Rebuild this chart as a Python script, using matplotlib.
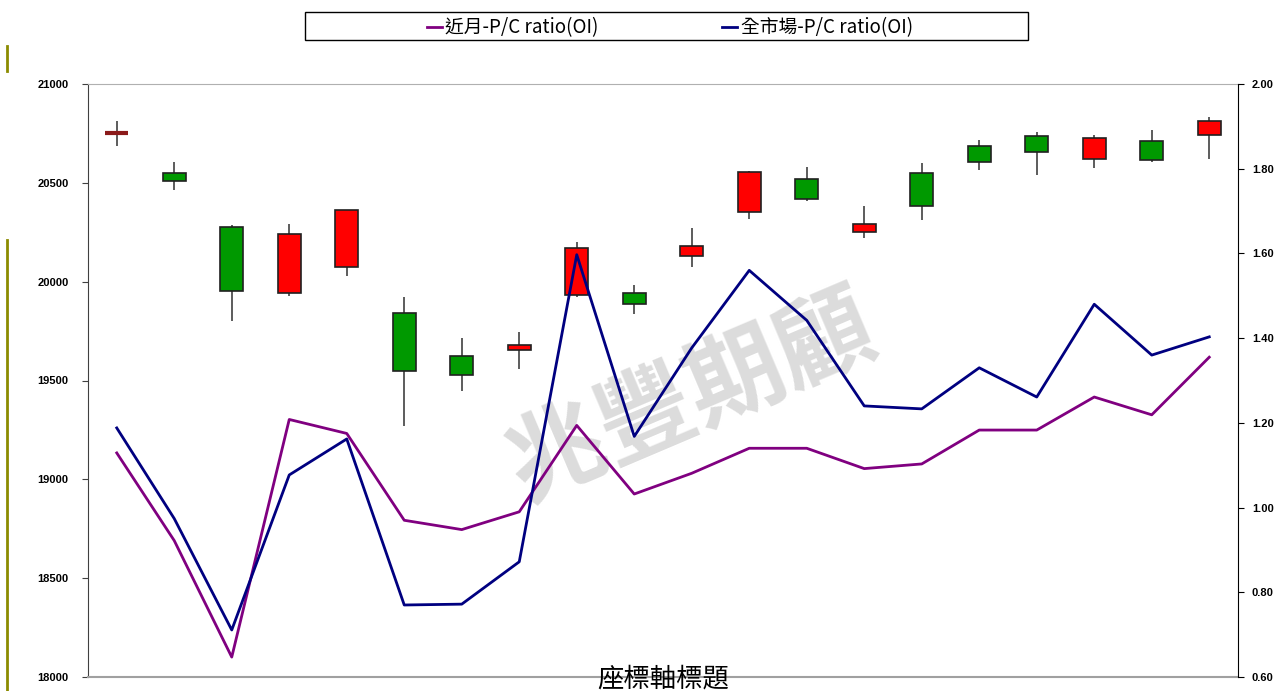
import matplotlib.pyplot as plt
from matplotlib.patches import Rectangle
from matplotlib.lines import Line2D

plt.rcParams['font.family'] = ['Noto Sans CJK TC', 'DejaVu Sans']

# candle data (index futures), red = up, green = down
opens = [20750, 20548, 20278, 19944, 20073, 19843, 19622, 19654, 19932, 19941,
         20130, 20352, 20519, 20253, 20551, 20688, 20735, 20619, 20710, 20740]
closes = [20750, 20511, 19954, 20240, 20363, 19548, 19526, 19680, 20172, 19887,
          20180, 20556, 20417, 20293, 20384, 20605, 20654, 20727, 20614, 20813]
highs = [20813, 20607, 20285, 20292, 20363, 19924, 19717, 19745, 20202, 19982,
         20271, 20560, 20579, 20381, 20599, 20717, 20757, 20742, 20767, 20831]
lows = [20686, 20464, 19801, 19929, 20029, 19270, 19448, 19557, 19921, 19838,
        20073, 20315, 20408, 20219, 20310, 20565, 20538, 20577, 20607, 20619]

# put/call ratios (right axis)
pc_near = [1.129, 0.922, 0.647, 1.208, 1.175, 0.970, 0.948, 0.990, 1.194, 1.032,
           1.081, 1.140, 1.140, 1.092, 1.103, 1.183, 1.183, 1.261, 1.219, 1.355]
pc_all = [1.188, 0.974, 0.711, 1.077, 1.162, 0.770, 0.772, 0.872, 1.597, 1.168,
          1.377, 1.560, 1.442, 1.240, 1.233, 1.330, 1.261, 1.480, 1.360, 1.403]

labels = ['近月-P/C ratio(OI)', '全市場-P/C ratio(OI)']

x = list(range(len(opens)))

fig = plt.figure(figsize=(12.76, 6.91), dpi=100)
ax = fig.add_axes([88 / 1276, 14 / 691, 1150 / 1276, 593 / 691])

for i in x:
    o, c = opens[i], closes[i]
    ax.vlines(i, lows[i], highs[i], color='#303030', lw=1.1, zorder=2)
    if o == c:
        ax.hlines(o, i - 0.2, i + 0.2, color='#8B1A1A', lw=3, zorder=3)
    else:
        col = '#FF0000' if c > o else '#009900'
        ax.bar(i, abs(c - o), bottom=min(o, c), width=0.4, color=col,
               edgecolor='#202020', lw=1.2, zorder=3)

ax.set_xlim(-0.5, len(x) - 0.5)
ax.set_ylim(18000, 21000)
ax.set_yticks([18000, 18500, 19000, 19500, 20000, 20500, 21000])
ax.set_xticks([])
ax.tick_params(axis='y', length=4, pad=10, labelsize=8, color='#404040')
for t in ax.get_yticklabels():
    t.set_fontfamily(['Liberation Sans'])
    t.set_fontweight('bold')
ax.spines['left'].set_color('#404040')
ax.spines['bottom'].set_color('#A0A0A0')
ax.spines['bottom'].set_linewidth(1.5)
ax.spines['top'].set_color('#B0B0B0')
ax.spines['right'].set_visible(False)

ax.text(0.525, 0.47, '兆豐期顧', transform=ax.transAxes, fontsize=70,
        fontweight='bold', color='#dcdcdc', rotation=23, ha='center',
        va='center', zorder=0.5, family=['Noto Sans CJK TC'])

ax2 = ax.twinx()
l1, = ax2.plot(x, pc_near, color='#800080', lw=2)
l2, = ax2.plot(x, pc_all, color='#000080', lw=2)
ax2.set_ylim(0.6, 2.0)
ax2.set_yticks([0.6, 0.8, 1.0, 1.2, 1.4, 1.6, 1.8, 2.0])
ax2.set_yticklabels([f'{v:.2f}' for v in [0.6, 0.8, 1.0, 1.2, 1.4, 1.6, 1.8, 2.0]])
ax2.tick_params(axis='y', length=4, pad=6, labelsize=8)
for t in ax2.get_yticklabels():
    t.set_fontfamily(['Liberation Sans'])
    t.set_fontweight('bold')
for s in ['left', 'top', 'bottom']:
    ax2.spines[s].set_visible(False)
ax2.spines['right'].set_color('black')

fig.patches.append(Rectangle((305 / 1276, 1 - 40 / 691), 723 / 1276, 28 / 691,
                             transform=fig.transFigure, fill=False,
                             edgecolor='black', lw=1))
fig.legend([l1, l2], labels, loc='center', bbox_to_anchor=(0.525, 1 - 28 / 691),
           ncol=2, frameon=False, fontsize=13.5, handlelength=0.8,
           handletextpad=0.2, columnspacing=6.6)

fig.text(663 / 1276, 1 - 679 / 691, '座標軸標題', ha='center', va='center',
         fontsize=19)

fig.lines.append(Line2D([7 / 1276, 7 / 1276], [1 - 46 / 691, 1 - 71 / 691],
                        transform=fig.transFigure, color='#8B8B00', lw=2))
fig.lines.append(Line2D([7 / 1276, 7 / 1276], [1 - 240 / 691, 0],
                        transform=fig.transFigure, color='#8B8B00', lw=2))

fig.savefig('out.png', dpi=100)
